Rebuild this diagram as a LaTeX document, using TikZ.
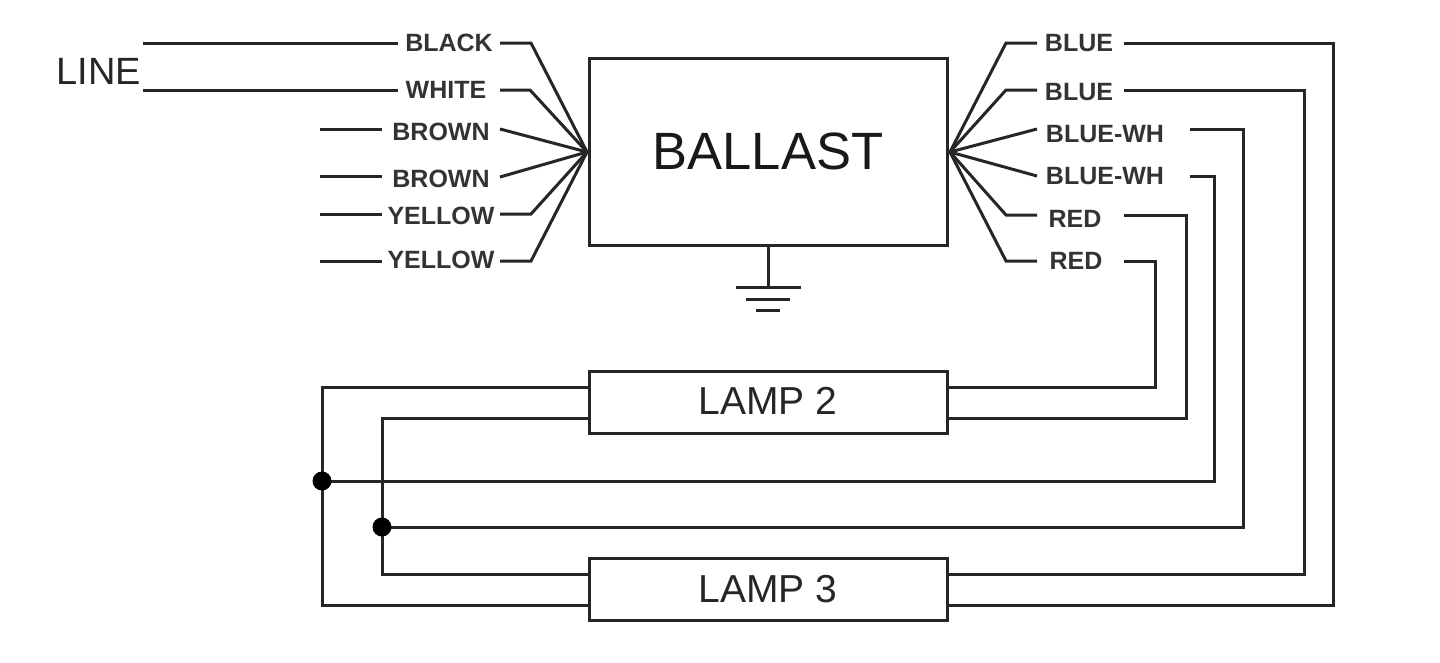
\documentclass[tikz,border=0pt]{standalone}
\usepackage{fontspec}
\setmainfont{Liberation Sans}
\begin{document}
\begin{tikzpicture}[x=1pt,y=-1pt,
 wire/.style={line width=3pt,color=black!85,line join=miter},
 box/.style={draw=black!85,line width=3pt,fill=white,inner sep=0pt,outer sep=0pt,anchor=north west},
 lab/.style={font=\fontsize{25}{25}\selectfont\bfseries,text=black!80,inner sep=0pt,anchor=center},
 dot/.style={circle,fill=black,inner sep=0pt,minimum size=19pt}]
\useasboundingbox (0,0) rectangle (1440,662);
\node[box,minimum width=358pt,minimum height=187pt] (ballast) at (589,58) {};
\node[font=\fontsize{52.5}{52.5}\selectfont,text=black!90,inner sep=0pt] (bt) at (768,151) {BALLAST};
\node[box,minimum width=358pt,minimum height=62pt] (lamp2) at (589,371) {};
\node[font=\fontsize{39}{39}\selectfont,text=black!85,inner sep=0pt] (l2t) at (768,401) {LAMP 2};
\node[box,minimum width=358pt,minimum height=62pt] (lamp3) at (589,558) {};
\node[font=\fontsize{39}{39}\selectfont,text=black!85,inner sep=0pt] (l3t) at (768,589) {LAMP 3};
\node[font=\fontsize{38}{38}\selectfont,text=black!85,inner sep=0pt] (line) at (99,71) {LINE};
\coordinate (bl) at (587,152);
\coordinate (br) at (950,152);
% left labels
\node[lab] (a1) at (449,43) {BLACK};
\node[lab] (a2) at (446,90) {WHITE};
\node[lab] (a3) at (441,132) {BROWN};
\node[lab] (a4) at (441,179) {BROWN};
\node[lab] (a5) at (441,216) {YELLOW};
\node[lab] (a6) at (441,260) {YELLOW};
% right labels
\node[lab] (b1) at (1079,43) {BLUE};
\node[lab] (b2) at (1079,92) {BLUE};
\node[lab] (b3) at (1105,134) {BLUE-WH};
\node[lab] (b4) at (1105,176) {BLUE-WH};
\node[lab] (b5) at (1075,219) {RED};
\node[lab] (b6) at (1076,261) {RED};
% line
\coordinate (s1) at (143,43); \coordinate (s2) at (143,90);
\draw[wire] (s1) -- (398,43);
\draw[wire] (s2) -- (398,90);
\coordinate (s3) at (320,129.5); \coordinate (s4) at (320,176.5);
\coordinate (s5) at (320,214.5); \coordinate (s6) at (320,261.5);
\draw[wire] (s3) -- (382,129.5);
\draw[wire] (s4) -- (382,176.5);
\draw[wire] (s5) -- (382,214.5);
\draw[wire] (s6) -- (382,261.5);
% fan left
\draw[wire] (500,43) -- (531,43) -- (bl);
\draw[wire] (500,90) -- (530,90) -- (bl);
\draw[wire] (500,129) -- (bl);
\draw[wire] (500,177) -- (bl);
\draw[wire] (500,214) -- (531,214) -- (bl);
\draw[wire] (500,261) -- (531,261) -- (bl);
% fan right
\draw[wire] (1037,43) -- (1006,43) -- (br);
\draw[wire] (1037,90) -- (1006,90) -- (br);
\draw[wire] (1037,129) -- (br);
\draw[wire] (1037,176) -- (br);
\draw[wire] (1037,215) -- (1006,215) -- (br);
\draw[wire] (1037,261) -- (1006,261) -- (br);
% right runs
\draw[wire] (1124,43) -- (1333,43) -- (1333,605) -- (947,605);
\draw[wire] (1124,90) -- (1304,90) -- (1304,574) -- (947,574);
\draw[wire] (1190,129) -- (1243,129) -- (1243,527) -- (382,527);
\draw[wire] (1190,176) -- (1214,176) -- (1214,481) -- (322,481);
\draw[wire] (1124,215) -- (1186,215) -- (1186,418) -- (947,418);
\draw[wire] (1124,261) -- (1155,261) -- (1155,387) -- (947,387);
% left runs
\draw[wire] (589,387) -- (322,387) -- (322,605) -- (589,605);
\draw[wire] (589,418) -- (382,418) -- (382,574) -- (589,574);
\node[dot] (d1) at (322,481) {};
\node[dot] (d2) at (382,527) {};
% ground
\coordinate (g0) at (768,246); \coordinate (g1) at (768,287);
\draw[wire] (g0) -- (g1);
\draw[wire] (736,287) -- (801,287);
\draw[wire] (746,299) -- (790,299);
\draw[wire] (756,310) -- (780,310);
\end{tikzpicture}
\end{document}
